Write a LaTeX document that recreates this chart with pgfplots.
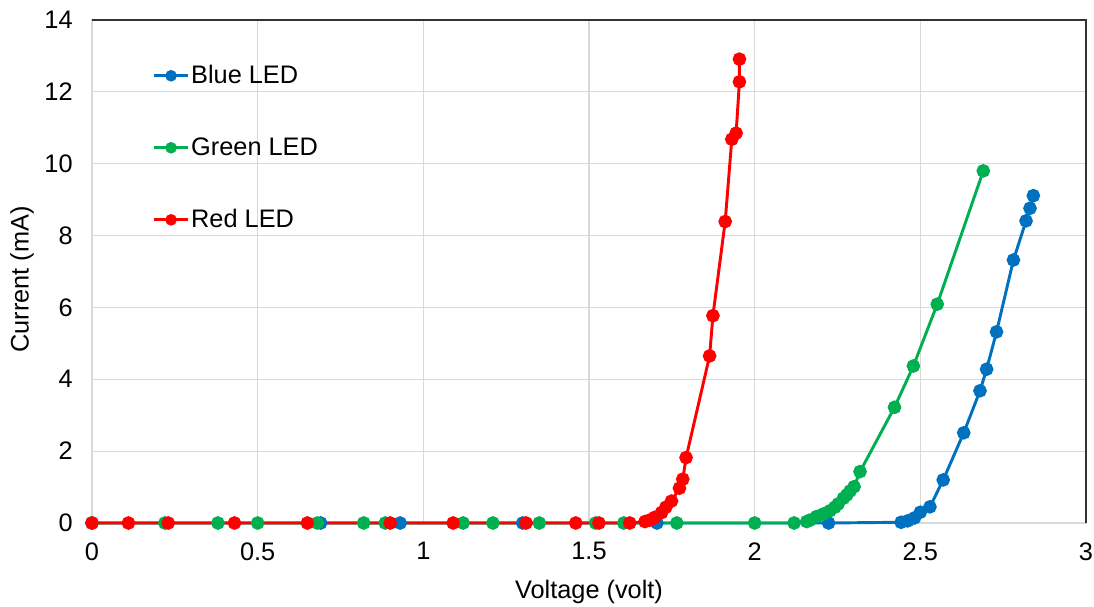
\documentclass[border=0pt]{standalone}
\usepackage{fontspec}
\setmainfont{Liberation Sans}
\usepackage{pgfplots}
\pgfplotsset{compat=1.18}
\definecolor{ledblue}{HTML}{0070C0}
\definecolor{ledgreen}{HTML}{00B050}
\definecolor{ledred}{HTML}{FF0000}
\definecolor{gridgray}{HTML}{D9D9D9}
\begin{document}
\begin{tikzpicture}
\begin{axis}[
  scale only axis,
  width=745.5pt, height=377.25pt,
  xmin=0, xmax=3, ymin=0, ymax=14,
  xtick={0,0.5,...,3}, ytick={0,2,...,14},
  xticklabels={0,0.5,1,1.5,2,2.5,3},
  grid=major,
  major grid style={gridgray, line width=0.9pt},
  axis line style={gridgray, line width=0.9pt},
  major tick length=0pt,
  tick label style={font=\fontsize{19}{22}\selectfont, text=black},
  /pgf/number format/assume math mode=true,
  xticklabel style={yshift=-11pt},
  yticklabel style={xshift=-11pt},
  xlabel={Voltage (volt)}, ylabel={Current (mA)},
  label style={font=\fontsize{19}{22}\selectfont},
  xlabel style={at={(axis description cs:0.5,0)}, anchor=center, yshift=-51.5pt},
  ylabel style={at={(axis description cs:0,0.5)}, anchor=center, rotate=0, yshift=52.5pt, xshift=-6pt},
  legend style={at={(axis description cs:0,1)}, anchor=north west, xshift=45pt, yshift=-33pt,
    draw=none, fill=none, font=\fontsize{19}{22}\selectfont, row sep=37pt,
    inner sep=0pt, nodes={inner sep=1pt}},
  legend cell align=left,
  legend image code/.code={\draw[mark repeat=2,mark phase=2,#1,mark size=3.2pt] plot coordinates {(0pt,0pt) (13pt,0pt) (26pt,0pt)};},
  every axis plot/.append style={line width=2.2pt, mark=*, mark size=4pt},
  clip=false,
]
\addplot[ledblue, mark options={fill=ledblue, draw=ledblue}] coordinates {
(0,0) (0.69,0) (0.93,0) (1.30,0) (1.705,0) (2.223,0) (2.442,0.02) (2.462,0.06)
(2.482,0.14) (2.500,0.30) (2.529,0.45) (2.569,1.20) (2.631,2.51) (2.680,3.68)
(2.700,4.28) (2.730,5.32) (2.781,7.32) (2.819,8.41) (2.831,8.76) (2.841,9.11)
};
\addlegendentry{Blue LED}
\addplot[ledgreen, mark options={fill=ledgreen, draw=ledgreen}] coordinates {
(0,0) (0.22,0) (0.38,0) (0.50,0) (0.68,0) (0.82,0) (0.885,0) (1.12,0) (1.21,0)
(1.35,0) (1.52,0) (1.605,0) (1.765,0) (2.0,0) (2.119,0) (2.157,0.04) (2.167,0.08)
(2.187,0.18) (2.207,0.25) (2.227,0.34) (2.242,0.44) (2.252,0.53) (2.268,0.69)
(2.278,0.78) (2.288,0.89) (2.300,1.01) (2.318,1.43) (2.422,3.22) (2.479,4.37)
(2.551,6.09) (2.690,9.80)
};
\addlegendentry{Green LED}
\addplot[ledred, mark options={fill=ledred, draw=ledred}] coordinates {
(0,0) (0.11,0) (0.23,0) (0.43,0) (0.65,0) (0.90,0) (1.09,0) (1.31,0) (1.46,0)
(1.53,0) (1.623,0) (1.669,0.04) (1.683,0.08) (1.699,0.16) (1.719,0.29) (1.732,0.44)
(1.749,0.61) (1.773,0.97) (1.783,1.22) (1.793,1.82) (1.864,4.65) (1.874,5.77)
(1.911,8.39) (1.931,10.68) (1.944,10.85) (1.954,12.28) (1.954,12.91)
};
\addlegendentry{Red LED}
\draw[black!80, line width=1.1pt] (rel axis cs:0,1) -- (rel axis cs:1,1) -- (rel axis cs:1,0);
\end{axis}
\pgfresetboundingbox
\path (-69pt,-62.25pt) rectangle (751.5pt,392.25pt);
\end{tikzpicture}
\end{document}
